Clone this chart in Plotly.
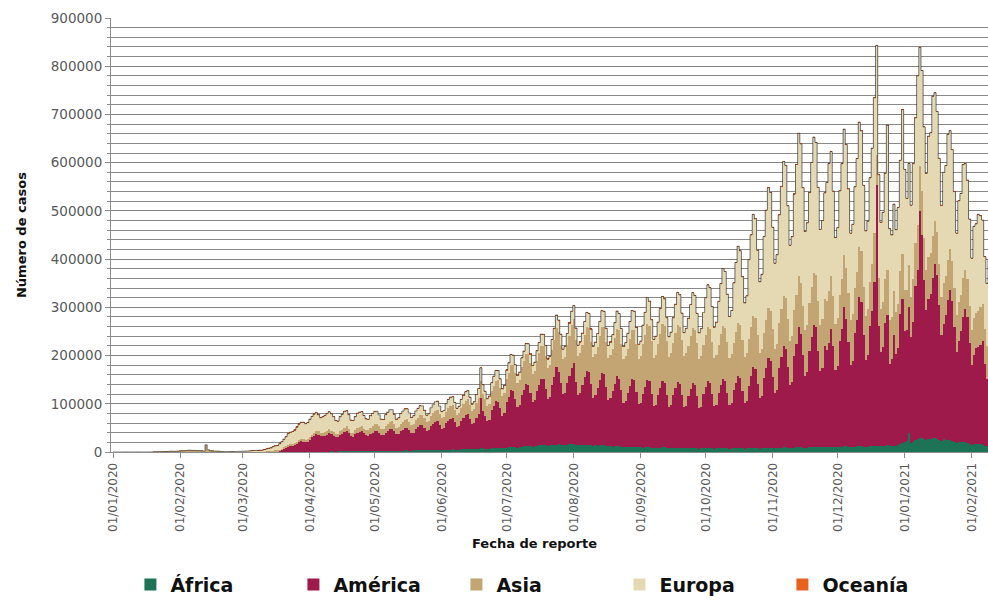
import pandas as pd
import plotly.graph_objects as go

# Daily reported cases by continent, in thousands, one row per week (Wed..Tue)
START_DATE = "2020-01-01"

AFRICA = [
    0, 0, 0, 0, 0, 0, 0,
    0, 0, 0, 0, 0, 0, 0,
    0, 0, 0, 0, 0, 0, 0,
    0, 0, 0, 0, 0, 0, 0,
    0, 0, 0, 0, 0, 0, 0,
    0, 0, 0, 0, 0, 0, 0,
    0, 0, 0, 0, 0, 0, 0,
    0, 0, 0, 0, 0, 0, 0,
    0, 0, 0, 0, 0, 0, 0,
    0, 0, 0, 0.01, 0.01, 0.01, 0.02,
    0.02, 0.03, 0.04, 0.05, 0.06, 0.08, 0.08,
    0.1, 0.1, 0.2, 0.2, 0.3, 0.3, 0.3,
    0.3, 0.4, 0.4, 0.5, 0.5, 0.5, 0.6,
    0.6, 0.6, 0.7, 0.8, 0.8, 0.9, 0.9,
    0.9, 1.0, 1.0, 1.1, 1.0, 1.0, 1.1,
    1.2, 1.3, 1.4, 1.5, 1.4, 1.3, 1.4,
    1.5, 1.6, 1.7, 1.8, 1.7, 1.6, 1.8,
    2.0, 2.1, 2.3, 2.4, 2.2, 2.0, 2.3,
    2.4, 2.6, 2.8, 2.9, 2.6, 2.4, 2.7,
    2.8, 3.0, 3.2, 3.4, 3.0, 2.8, 3.2,
    3.2, 3.5, 3.8, 3.9, 3.5, 3.3, 3.6,
    3.7, 4.0, 4.3, 4.5, 4.2, 3.8, 4.1,
    4.4, 4.8, 5.0, 5.2, 4.8, 4.5, 4.9,
    5.2, 5.6, 6.0, 6.3, 5.8, 5.3, 5.8,
    6.2, 6.8, 7.3, 7.6, 7.0, 6.4, 7.0,
    7.5, 8.2, 8.8, 9.0, 8.4, 7.7, 8.3,
    9.0, 9.6, 10.2, 10.5, 9.8, 9.0, 9.7,
    11, 12, 12.5, 13, 12, 11, 12,
    12.5, 13.5, 14, 14.5, 13.5, 12.5, 13.5,
    14, 15, 15.5, 16, 15, 14, 15,
    15, 16, 16.5, 17, 15.5, 14, 15,
    14, 15, 15, 15, 14, 13, 13.5,
    12.5, 13.5, 13.5, 13.5, 12.5, 11.5, 12,
    11, 12, 12, 12, 11, 10, 10.5,
    10, 10.5, 11, 11, 10, 9.5, 10,
    9, 9.5, 10, 10, 9, 8.5, 9,
    8.5, 9, 9.5, 9.5, 8.5, 8, 8.5,
    8, 8.5, 9, 9, 8, 7.5, 8,
    7.5, 8, 8.5, 8.5, 7.5, 7, 7.5,
    7.4, 7.9, 8.4, 8.5, 7.6, 7.1, 7.5,
    7.5, 8.1, 8.5, 8.4, 7.5, 7.0, 7.4,
    7.6, 8.1, 8.6, 8.4, 7.4, 7.0, 7.6,
    7.8, 8.2, 8.7, 8.6, 7.6, 7.1, 7.7,
    8, 8.5, 9, 9, 8, 7.5, 8,
    8.5, 9, 9.5, 9.5, 8.5, 8, 8.5,
    9, 9.5, 10, 10, 9, 8.5, 9,
    10, 10.5, 11, 11, 10, 9.5, 10,
    10.2, 10.8, 11.2, 11.1, 10.1, 9.6, 10.3,
    10.5, 11, 11.5, 11.5, 10.5, 10, 10.5,
    11, 11.5, 12, 12, 11, 10.5, 11,
    11.5, 12, 12.5, 13, 12, 11.5, 12,
    13, 14, 13, 12, 12, 13, 15,
    17, 18, 20, 22, 40, 18, 20,
    25, 28, 30, 29, 26, 24, 27,
    28, 30, 30, 28, 25, 22, 26,
    24, 25, 25, 23, 20, 18, 21,
    20, 21, 21, 19, 17, 15, 17,
    16, 17, 17, 15, 13, 12, 14,
]

AMERICA = [
    0, 0, 0, 0, 0, 0, 0,
    0, 0, 0, 0, 0, 0, 0,
    0, 0, 0, 0, 0, 0, 0,
    0, 0, 0, 0, 0, 0, 0,
    0, 0, 0, 0, 0, 0, 0,
    0, 0, 0, 0, 0, 0, 0,
    0, 0, 0, 0, 0, 0, 0,
    0, 0, 0, 0, 0, 0, 0,
    0, 0, 0, 0, 0, 0, 0.02,
    0.03, 0.05, 0.1, 0.1, 0.2, 0.2, 0.3,
    0.4, 0.4, 0.6, 0.9, 1.0, 1.5, 1.8,
    3, 5, 7, 9, 12, 14, 14,
    15, 18, 21, 23, 22, 21, 22,
    25, 30, 33, 37, 35, 32, 33,
    33, 35, 38, 36, 33, 30, 29,
    34, 36, 40, 43, 37, 31, 30,
    35, 38, 40, 42, 37, 33, 32,
    36, 38, 42, 42, 38, 33, 32,
    38, 40, 44, 45, 40, 34, 34,
    40, 43, 47, 47, 42, 36, 37,
    45, 48, 52, 52, 46, 40, 41,
    50, 54, 58, 59, 52, 44, 45,
    55, 60, 64, 65, 57, 48, 50,
    60, 65, 70, 72, 62, 52, 54,
    65, 72, 105, 78, 68, 57, 60,
    80, 88, 96, 95, 82, 68, 72,
    95, 105, 118, 115, 100, 84, 87,
    108, 116, 128, 126, 110, 92, 95,
    115, 125, 138, 136, 118, 98, 100,
    125, 140, 160, 150, 128, 106, 108,
    128, 142, 158, 168, 130, 105, 108,
    125, 140, 152, 150, 126, 100, 104,
    120, 135, 150, 148, 122, 96, 100,
    115, 130, 146, 140, 118, 92, 95,
    112, 126, 140, 138, 114, 90, 92,
    112, 126, 140, 137, 112, 86, 88,
    110, 124, 138, 134, 110, 85, 88,
    110, 124, 136, 132, 110, 86, 88,
    108, 122, 134, 130, 108, 84, 86,
    112, 126, 138, 134, 112, 88, 90,
    115, 130, 142, 138, 114, 90, 94,
    120, 136, 150, 146, 120, 94, 98,
    130, 150, 168, 164, 134, 104, 108,
    145, 165, 185, 180, 148, 114, 120,
    165, 188, 210, 205, 168, 130, 136,
    190, 215, 250, 235, 192, 150, 156,
    200, 228, 252, 248, 200, 158, 165,
    210, 200, 215, 245, 210, 160, 168,
    220, 245, 290, 265, 218, 170, 178,
    235, 262, 310, 300, 232, 180, 190,
    250, 280, 340, 540, 250, 195, 205,
    255, 270, 170, 180, 230, 190, 200,
    270, 300, 230, 230, 260, 220, 250,
    320, 350, 470, 420, 330, 270, 290,
    300, 330, 360, 340, 280, 220, 240,
    260, 290, 310, 290, 240, 190, 210,
    230, 260, 275, 260, 210, 165, 185,
    200, 200, 205, 215, 170, 140, 150,
]

ASIA = [
    0, 0, 0, 0, 0, 0, 0,
    0, 0, 0, 0, 0, 0, 0,
    0, 0, 0, 0, 0.01, 0.08, 0.15,
    0.3, 0.5, 0.6, 0.7, 1.0, 1.3, 1.8,
    1.5, 1.7, 2.0, 2.1, 2.6, 2.8, 3.2,
    3.9, 3.7, 3.2, 3.4, 2.7, 3.0, 2.5,
    2.0, 15.1, 5.1, 2.6, 2.1, 2.0, 1.9,
    1.8, 0.6, 0.9, 1.1, 1.0, 0.8, 0.8,
    0.9, 0.7, 0.9, 0.9, 1.0, 1.2, 1.2,
    1.2, 1.3, 1.4, 1.2, 1.0, 0.9, 1.2,
    1.2, 1.3, 1.5, 1.3, 1.5, 1.6, 1.7,
    1.8, 1.9, 2.2, 2.4, 2.5, 2.6, 2.8,
    3.0, 3.2, 3.5, 3.7, 3.8, 3.9, 4.0,
    5, 5, 6, 6, 7, 6, 6,
    7, 7, 8, 7, 7, 7, 8,
    8, 8, 9, 9, 9, 8, 9,
    10, 11, 11, 11, 10, 10, 11,
    12, 13, 13, 14, 13, 12, 13,
    14, 15, 15, 16, 15, 14, 15,
    16, 17, 17, 18, 17, 17, 18,
    18, 19, 20, 21, 20, 19, 20,
    21, 22, 23, 24, 23, 22, 23,
    24, 26, 27, 27, 26, 25, 26,
    27, 29, 30, 31, 30, 28, 29,
    30, 33, 34, 35, 34, 32, 33,
    38, 41, 43, 45, 43, 40, 42,
    47, 50, 53, 55, 53, 50, 52,
    57, 60, 62, 64, 62, 59, 61,
    62, 66, 68, 70, 68, 64, 66,
    72, 77, 82, 82, 78, 73, 75,
    78, 83, 88, 90, 86, 80, 82,
    82, 87, 92, 93, 89, 83, 86,
    86, 92, 96, 98, 94, 88, 90,
    88, 94, 98, 100, 96, 90, 93,
    92, 98, 102, 104, 100, 94, 97,
    102, 108, 115, 114, 109, 101, 104,
    106, 112, 117, 118, 112, 104, 108,
    108, 114, 118, 119, 114, 106, 110,
    104, 110, 114, 114, 110, 102, 106,
    102, 108, 112, 112, 108, 100, 104,
    100, 106, 110, 110, 106, 98, 102,
    98, 104, 108, 108, 104, 96, 100,
    96, 102, 106, 106, 102, 94, 98,
    94, 100, 104, 104, 100, 92, 96,
    93, 99, 103, 105, 99, 93, 97,
    96, 102, 106, 106, 102, 94, 98,
    98, 104, 108, 108, 104, 96, 100,
    97, 103, 107, 109, 103, 95, 99,
    96, 102, 106, 106, 102, 94, 98,
    94, 100, 104, 104, 100, 92, 96,
    92, 98, 102, 62, 98, 90, 94,
    90, 94, 90, 88, 92, 88, 92,
    88, 92, 86, 84, 88, 84, 88,
    88, 92, 94, 92, 88, 84, 88,
    84, 88, 90, 88, 84, 80, 84,
    80, 84, 86, 84, 80, 76, 80,
    76, 80, 82, 80, 76, 72, 76,
    72, 76, 78, 76, 72, 68, 72,
]

EUROPA = [
    0, 0, 0, 0, 0, 0, 0,
    0, 0, 0, 0, 0, 0, 0,
    0, 0, 0, 0, 0, 0, 0,
    0, 0, 0, 0, 0, 0, 0,
    0, 0, 0, 0, 0, 0, 0,
    0, 0, 0, 0, 0, 0, 0,
    0, 0, 0, 0, 0, 0, 0,
    0, 0, 0, 0.05, 0.1, 0.1, 0.2,
    0.1, 0.3, 0.3, 0.4, 0.6, 0.6, 0.7,
    0.9, 1.1, 1.6, 1.8, 1.9, 2.6, 2.4,
    3.3, 4.5, 5.7, 6.2, 8.3, 9.3, 9.6,
    12, 14, 17, 20, 23, 24, 25,
    27, 30, 33, 34, 35, 33, 34,
    37, 38, 39, 38, 34, 32, 33,
    35, 37, 36, 35, 32, 27, 26,
    30, 33, 34, 32, 30, 26, 25,
    27, 30, 30, 29, 27, 24, 23,
    25, 27, 27, 26, 24, 21, 20,
    23, 25, 26, 24, 21, 18, 19,
    21, 22, 22, 21, 19, 16, 17,
    19, 20, 20, 19, 17, 14, 15,
    17, 18, 19, 18, 16, 14, 14,
    17, 18, 18, 17, 15, 13, 14,
    17, 18, 19, 18, 16, 14, 15,
    18, 20, 28, 19, 17, 15, 16,
    18, 20, 21, 20, 18, 15, 16,
    19, 20, 21, 20, 18, 16, 17,
    19, 21, 22, 21, 19, 17, 18,
    20, 22, 24, 23, 21, 18, 19,
    22, 24, 26, 25, 23, 20, 21,
    24, 26, 29, 28, 25, 22, 23,
    25, 28, 30, 29, 26, 23, 24,
    27, 30, 33, 32, 28, 25, 26,
    29, 32, 36, 35, 31, 27, 28,
    32, 36, 40, 39, 34, 30, 31,
    40, 46, 55, 52, 44, 38, 39,
    45, 52, 58, 56, 48, 42, 44,
    52, 60, 68, 66, 56, 48, 50,
    58, 66, 74, 72, 62, 54, 56,
    68, 78, 88, 86, 74, 64, 68,
    90, 105, 120, 118, 100, 86, 90,
    125, 145, 160, 155, 132, 112, 118,
    165, 190, 210, 205, 175, 148, 155,
    200, 228, 250, 245, 210, 178, 185,
    225, 255, 280, 275, 235, 198, 205,
    240, 270, 295, 288, 245, 205, 212,
    230, 258, 282, 275, 235, 198, 205,
    220, 245, 265, 258, 218, 180, 188,
    215, 240, 262, 255, 215, 180, 186,
    210, 235, 258, 250, 210, 176, 182,
    215, 240, 280, 228, 215, 180, 186,
    220, 300, 190, 170, 180, 170, 200,
    230, 300, 250, 190, 210, 190, 240,
    260, 310, 245, 250, 230, 200, 250,
    250, 290, 265, 250, 220, 190, 230,
    230, 260, 245, 230, 200, 170, 210,
    210, 235, 220, 205, 180, 150, 190,
    185, 200, 190, 175, 150, 130, 165,
]

OCEANIA = [
    0, 0, 0, 0, 0, 0, 0,
    0, 0, 0, 0, 0, 0, 0,
    0, 0, 0, 0, 0, 0, 0,
    0, 0, 0, 0, 0, 0, 0,
    0, 0, 0, 0, 0, 0, 0,
    0, 0, 0, 0, 0, 0, 0,
    0, 0, 0, 0, 0, 0, 0,
    0, 0, 0, 0, 0, 0, 0,
    0, 0, 0, 0, 0, 0, 0,
    0.01, 0.01, 0.02, 0.01, 0.02, 0.02, 0.03,
    0.03, 0.04, 0.05, 0.06, 0.08, 0.1, 0.1,
    0.12, 0.15, 0.2, 0.25, 0.3, 0.35, 0.4,
    0.45, 0.5, 0.55, 0.5, 0.45, 0.4, 0.4,
    0.4, 0.3, 0.3, 0.3, 0.2, 0.2, 0.2,
    0.2, 0.2, 0.1, 0.1, 0.1, 0.1, 0.1,
    0.05, 0.06, 0.05, 0.04, 0.04, 0.03, 0.03,
    0.03, 0.02, 0.03, 0.02, 0.02, 0.01, 0.02,
    0.02, 0.02, 0.02, 0.01, 0.01, 0.01, 0.01,
    0.01, 0.02, 0.01, 0.01, 0.01, 0.01, 0.01,
    0.01, 0.01, 0.01, 0.01, 0.01, 0.01, 0.01,
    0.01, 0.01, 0.02, 0.01, 0.01, 0.01, 0.01,
    0.01, 0.01, 0.01, 0.02, 0.01, 0.01, 0.01,
    0.01, 0.02, 0.02, 0.02, 0.01, 0.01, 0.02,
    0.02, 0.02, 0.03, 0.02, 0.02, 0.02, 0.03,
    0.03, 0.04, 0.03, 0.05, 0.04, 0.03, 0.05,
    0.06, 0.08, 0.07, 0.09, 0.08, 0.07, 0.1,
    0.12, 0.16, 0.18, 0.2, 0.15, 0.14, 0.2,
    0.25, 0.3, 0.3, 0.32, 0.28, 0.3, 0.35,
    0.36, 0.4, 0.45, 0.42, 0.38, 0.37, 0.45,
    0.5, 0.55, 0.6, 0.55, 0.5, 0.5, 0.6,
    0.65, 0.72, 0.68, 0.6, 0.58, 0.52, 0.5,
    0.55, 0.5, 0.48, 0.45, 0.4, 0.35, 0.38,
    0.35, 0.33, 0.3, 0.28, 0.25, 0.25, 0.24,
    0.22, 0.2, 0.2, 0.18, 0.16, 0.15, 0.15,
    0.13, 0.12, 0.12, 0.1, 0.1, 0.09, 0.1,
    0.08, 0.08, 0.07, 0.07, 0.06, 0.06, 0.06,
    0.06, 0.05, 0.05, 0.05, 0.04, 0.04, 0.04,
    0.04, 0.04, 0.03, 0.04, 0.03, 0.03, 0.03,
    0.03, 0.03, 0.03, 0.02, 0.02, 0.02, 0.03,
    0.02, 0.03, 0.02, 0.02, 0.02, 0.02, 0.02,
    0.02, 0.02, 0.03, 0.02, 0.02, 0.02, 0.02,
    0.02, 0.03, 0.03, 0.03, 0.02, 0.02, 0.03,
    0.03, 0.03, 0.04, 0.03, 0.03, 0.02, 0.03,
    0.03, 0.04, 0.04, 0.03, 0.03, 0.03, 0.03,
    0.04, 0.04, 0.05, 0.04, 0.03, 0.03, 0.04,
    0.04, 0.05, 0.05, 0.04, 0.04, 0.03, 0.04,
    0.04, 0.04, 0.05, 0.04, 0.03, 0.03, 0.04,
    0.03, 0.04, 0.04, 0.03, 0.03, 0.03, 0.03,
    0.03, 0.03, 0.04, 0.03, 0.03, 0.02, 0.03,
    0.03, 0.03, 0.03, 0.03, 0.02, 0.02, 0.03,
    0.03, 0.04, 0.04, 0.05, 0.04, 0.03, 0.04,
    0.04, 0.05, 0.03, 0.03, 0.04, 0.04, 0.05,
    0.05, 0.05, 0.04, 0.04, 0.05, 0.04, 0.05,
    0.05, 0.06, 0.06, 0.05, 0.04, 0.04, 0.05,
    0.04, 0.05, 0.05, 0.04, 0.04, 0.03, 0.04,
    0.04, 0.04, 0.05, 0.04, 0.03, 0.03, 0.04,
    0.03, 0.04, 0.04, 0.03, 0.03, 0.03, 0.03,
    0.03, 0.03, 0.04, 0.03, 0.03, 0.02, 0.03,
]

SERIES = [
    ("África", AFRICA, "#1d7356"),
    ("América", AMERICA, "#9e1a4b"),
    ("Asia", ASIA, "#c3a473"),
    ("Europa", EUROPA, "#e5d9b4"),
    ("Oceanía", OCEANIA, "#e8611f"),
]

dates = pd.date_range(START_DATE, periods=len(AFRICA), freq="D")

fig = go.Figure()
for name, values, color in SERIES:
    fig.add_trace(go.Bar(
        x=dates, y=[v * 1000 for v in values], name=name,
        marker=dict(color=color, line=dict(width=0)),
    ))

# thin dark outline along the top of the stack
totals = [sum(day) * 1000 for day in zip(*(s[1] for s in SERIES))]
fig.add_trace(go.Scatter(
    x=dates, y=totals, mode="lines", showlegend=False, hoverinfo="skip",
    line=dict(color="#2a2a2a", width=1, shape="hvh"), opacity=0.65,
))

tick_font = dict(family="DejaVu Sans", size=12, color="#595959")
title_font = dict(family="DejaVu Sans", size=13, color="#111111", weight="bold")

fig.update_layout(
    width=988, height=601,
    margin=dict(l=111, r=0, t=18, b=149, autoexpand=False),
    paper_bgcolor="white", plot_bgcolor="white",
    barmode="stack", bargap=0,
    showlegend=True,
    legend=dict(
        orientation="h", traceorder="normal",
        xref="container", yref="container",
        x=0.132, xanchor="left", y=0.027, yanchor="middle",
        font=dict(family="DejaVu Sans", size=19, color="#111111", weight="bold"),
        entrywidth=118, entrywidthmode="pixels", itemwidth=30,
    ),
    xaxis=dict(
        type="date", automargin=False,
        range=["2019-12-31 01:00", "2021-02-08 12:00"],
        tick0="2020-01-01", dtick="M1", tickformat="%d/%m/%Y",
        tickangle=-90, tickfont=tick_font,
        ticks="outside", ticklen=5, tickcolor="#8c8c8c",
        showline=True, linecolor="#8c8c8c", linewidth=1,
        showgrid=False, zeroline=False,
    ),
    yaxis=dict(
        automargin=False,
        range=[0, 900000], dtick=100000, tickformat="d",
        tickfont=dict(family="DejaVu Sans", size=13.5, color="#595959"),
        ticks="outside", ticklen=5, tickcolor="#8c8c8c",
        showline=True, linecolor="#8c8c8c", linewidth=1,
        showgrid=True, gridcolor="#7f7f7f", gridwidth=1,
        zeroline=False,
        minor=dict(dtick=20000, showgrid=True, gridcolor="#8a8a8a",
                   gridwidth=1, ticks="outside", ticklen=3, tickcolor="#8c8c8c"),
    ),
    annotations=[
        dict(text="Fecha de reporte", xref="paper", yref="paper",
             x=0.483, y=-0.21, xanchor="center", yanchor="middle",
             showarrow=False, font=title_font),
        dict(text="Número de casos", xref="paper", yref="paper",
             x=-0.1026, y=0.5, xanchor="center", yanchor="middle",
             textangle=-90, showarrow=False, font=title_font),
    ],
)

fig.write_html("out.html")
